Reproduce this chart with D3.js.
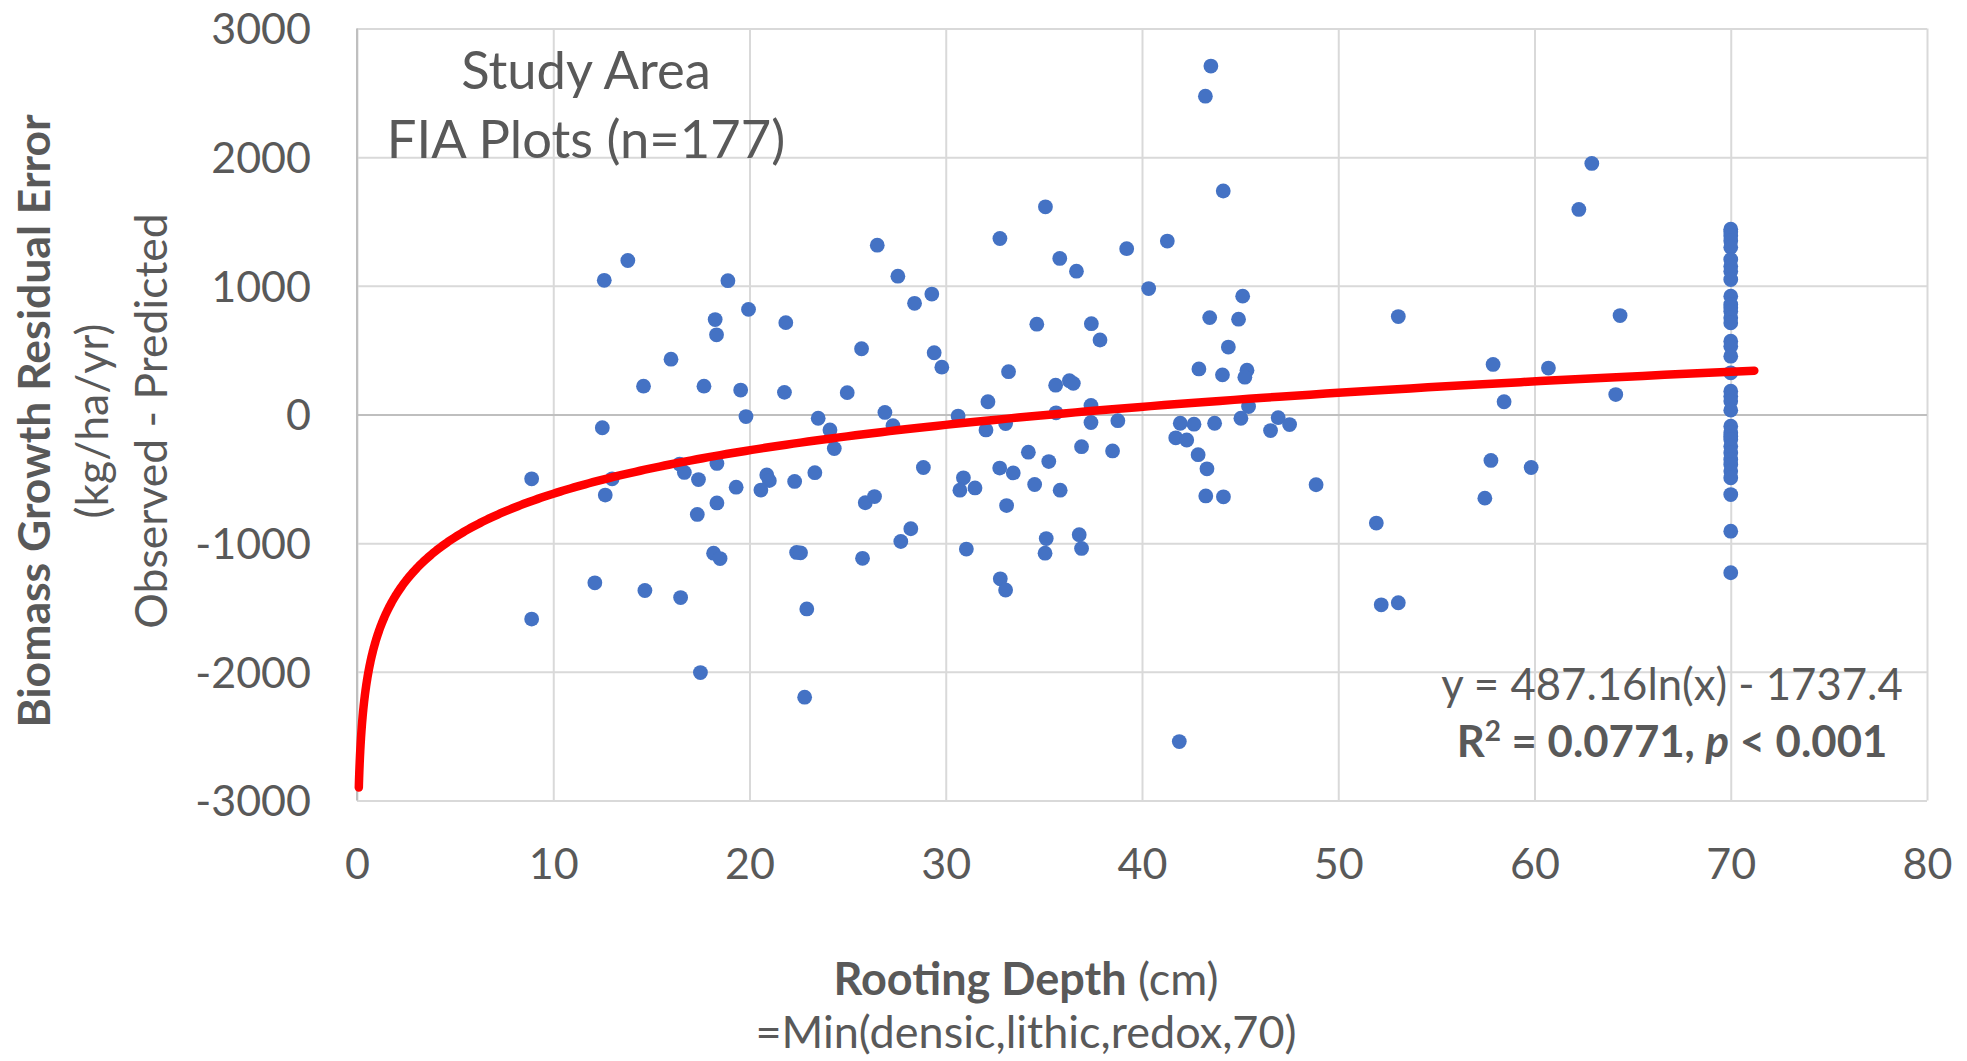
<!DOCTYPE html>
<html>
<head>
<meta charset="utf-8">
<script src="https://cdn.jsdelivr.net/npm/d3@7"></script>
<style>
  html, body { margin: 0; padding: 0; background: #fff; }
  svg text { font-family: Lato, "Open Sans", sans-serif; fill: #595959; }
</style>
</head>
<body>
<svg id="chart" width="1967" height="1061"></svg>
<script>
// rooting depth (cm) of each FIA plot
const depthCm = [
  13.8, 12.6, 18.9, 19.95, 18.25, 18.32, 16.0, 14.6, 17.68, 19.55,
  19.82, 12.5, 8.9, 13.0, 12.65, 16.44, 16.68, 18.34, 17.4, 19.32,
  18.34, 17.34, 18.17, 18.5, 12.12, 14.67, 16.49, 8.9, 17.5, 20.88,
  21.01, 20.58, 21.85, 21.78, 26.51, 27.56, 28.41, 29.29, 25.71, 29.41,
  29.8, 24.98, 23.5, 24.1, 24.32, 26.9, 27.31, 28.86, 22.3, 23.33,
  25.9, 26.37, 22.4, 22.6, 25.76, 27.71, 28.22, 22.92, 22.81, 30.63,
  32.15, 32.05, 33.05, 33.2, 32.76, 35.08, 35.81, 36.66, 39.22, 40.34,
  34.64, 37.42, 37.86, 35.6, 36.3, 36.5, 35.62, 37.4, 37.4, 38.77,
  36.92, 38.5, 34.21, 35.25, 32.75, 33.44, 34.53, 35.83, 30.9, 30.72,
  31.49, 33.1, 31.05, 35.12, 35.06, 36.8, 36.92, 32.78, 33.05, 43.51,
  43.23, 44.14, 41.29, 45.13, 43.45, 44.92, 44.4, 42.9, 44.1, 45.35,
  45.24, 45.43, 45.04, 41.95, 42.65, 43.7, 41.72, 42.28, 42.86, 43.31,
  43.25, 44.15, 46.55, 46.94, 47.52, 48.87, 51.94, 52.19, 53.06, 53.06,
  41.9, 57.89, 58.45, 57.78, 59.83, 57.47, 60.71, 62.92, 62.26, 64.36,
  64.14,
  70, 70, 70, 70, 70, 70, 70, 70, 70, 70, 70, 70,
  70, 70, 70, 70, 70, 70, 70, 70, 70, 70, 70, 70,
  70, 70, 70, 70, 70, 70, 70, 70, 70, 70, 70, 70
];

// observed - predicted biomass growth (kg/ha/yr)
const residualKg = [
  1197, 1043, 1040, 817, 738, 619, 430, 220, 220, 190,
  -16, -103, -500, -500, -626, -385, -450, -380, -506, -565,
  -687, -777, -1078, -1120, -1308, -1368, -1423, -1590, -2006, -470,
  -514, -587, 714, 172, 1316, 1075, 864, 936, 511, 480,
  368, 170, -29, -120, -265, 16, -87, -412, -520, -452,
  -686, -638, -1072, -1075, -1118, -987, -888, -1511, -2197, -12,
  99, -120, -70, 333, 1368, 1614, 1213, 1114, 1289, 979,
  702, 706, 579, 228, 263, 242, 13, 70, -62, -48,
  -250, -283, -293, -366, -416, -454, -544, -588, -492, -588,
  -571, -708, -1046, -964, -1078, -934, -1041, -1277, -1364, 2708,
  2474, 1737, 1348, 920, 753, 741, 524, 354, 308, 344,
  290, 62, -29, -68, -75, -68, -181, -198, -312, -422,
  -633, -640, -125, -25, -78, -546, -844, -1479, -1463, 761,
  -2542, 389, 99, -357, -412, -650, 361, 1951, 1594, 769,
  155,
  1440, 1420, 1390, 1350, 1300, 1205, 1153, 1114, 1049, 920, 855, 830,
  803, 751, 712, 570, 531, 453, 324, 181, 142, 104, 34, -91,
  -142, -170, -194, -246, -298, -350, -389, -440, -492, -622, -907, -1230
];

const xTicks = [0, 10, 20, 30, 40, 50, 60, 70, 80];
const yTicks = [-3000, -2000, -1000, 0, 1000, 2000, 3000];

// log trendline y = a ln(x) + b
const trendA = 487.16, trendB = -1737.4;
const trendFrom = 0.092, trendTo = 71.2;

const svg = d3.select('#chart');
const plot = {left: 357, right: 1927, top: 28.5, bottom: 800.5};

const x = d3.scaleLinear().domain([0, 80]).range([plot.left, plot.right]);
const y = d3.scaleLinear().domain([-3000, 3000]).range([plot.bottom, plot.top]);

// gridlines
svg.append('g')
  .attr('transform', `translate(0,${plot.bottom})`)
  .call(d3.axisBottom(x).tickValues(xTicks).tickSize(-(plot.bottom - plot.top)).tickFormat(''))
  .call(g => g.select('.domain').remove())
  .call(g => g.selectAll('line').attr('stroke', '#d9d9d9').attr('stroke-width', 2));

svg.append('g')
  .attr('transform', `translate(${plot.left},0)`)
  .call(d3.axisLeft(y).tickValues(yTicks).tickSize(-(plot.right - plot.left)).tickFormat(''))
  .call(g => g.select('.domain').remove())
  .call(g => g.selectAll('line').attr('stroke', d => d === 0 ? '#bfbfbf' : '#d9d9d9').attr('stroke-width', 2));

// vertical axis line
svg.append('line')
  .attr('x1', x(0)).attr('x2', x(0))
  .attr('y1', plot.top).attr('y2', plot.bottom)
  .attr('stroke', '#bfbfbf').attr('stroke-width', 2);

// tick labels
svg.append('g')
  .attr('transform', `translate(0,${plot.bottom})`)
  .call(d3.axisBottom(x).tickValues(xTicks).tickSize(0).tickPadding(0).tickFormat(d => String(d)))
  .call(g => g.select('.domain').remove())
  .call(g => g.selectAll('text').attr('y', 78).attr('dy', null)
    .style('font-size', '43px').style('font-family', 'Lato, sans-serif').attr('fill', '#595959'));

svg.append('g')
  .attr('transform', `translate(311,0)`)
  .call(d3.axisLeft(y).tickValues(yTicks).tickSize(0).tickPadding(0).tickFormat(d => String(d)))
  .call(g => g.select('.domain').remove())
  .call(g => g.selectAll('text').attr('x', 0).attr('dy', '0.36em')
    .style('font-size', '43px').style('font-family', 'Lato, sans-serif').attr('fill', '#595959'));

// points
svg.append('g')
  .selectAll('circle')
  .data(d3.range(depthCm.length))
  .join('circle')
  .attr('cx', i => x(depthCm[i]))
  .attr('cy', i => y(residualKg[i]))
  .attr('r', 7.4)
  .attr('fill', '#4472c4');

// trendline
const trendPts = d3.range(0, 401).map(k => {
  const t = k / 400;
  const xv = trendFrom * Math.pow(trendTo / trendFrom, t);
  return [xv, trendA * Math.log(xv) + trendB];
});
svg.append('path')
  .datum(trendPts)
  .attr('d', d3.line().x(d => x(d[0])).y(d => y(d[1])))
  .attr('fill', 'none')
  .attr('stroke', '#ff0000')
  .attr('stroke-width', 8.5)
  .attr('stroke-linecap', 'round');

// labels inside plot
svg.append('text').attr('x', 586).attr('y', 89).attr('text-anchor', 'middle')
  .style('font-size', '52.5px').text('Study Area');
svg.append('text').attr('x', 586).attr('y', 158).attr('text-anchor', 'middle')
  .style('font-size', '52.5px').text('FIA Plots (n=177)');

svg.append('text').attr('x', 1672).attr('y', 700).attr('text-anchor', 'middle')
  .style('font-size', '43.7px').text('y = 487.16ln(x) - 1737.4');
const r2 = svg.append('text').attr('x', 1672).attr('y', 757).attr('text-anchor', 'middle')
  .style('font-size', '43.7px').style('font-weight', 700);
r2.append('tspan').text('R');
r2.append('tspan').text('2').attr('dy', -16).style('font-size', '28px');
r2.append('tspan').text(' = 0.0771, ').attr('dy', 16);
r2.append('tspan').text('p').style('font-style', 'italic');
r2.append('tspan').text(' < 0.001');

// axis titles
const yTitle = [
  {text: 'Biomass Growth Residual Error', x: 50, bold: true},
  {text: '(kg/ha/yr)', x: 108, bold: false},
  {text: 'Observed - Predicted', x: 167, bold: false}
];
yTitle.forEach(t => {
  svg.append('text')
    .attr('transform', `translate(${t.x},421) rotate(-90)`)
    .attr('text-anchor', 'middle')
    .style('font-size', '44.5px')
    .style('font-weight', t.bold ? 700 : 400)
    .text(t.text);
});

const xt = svg.append('text').attr('x', 1026).attr('y', 995).attr('text-anchor', 'middle')
  .style('font-size', '45px');
xt.append('tspan').text('Rooting Depth').style('font-weight', 700);
xt.append('tspan').text(' (cm)');
svg.append('text').attr('x', 1026).attr('y', 1048).attr('text-anchor', 'middle')
  .style('font-size', '45px').text('=Min(densic,lithic,redox,70)');
</script>
</body>
</html>
